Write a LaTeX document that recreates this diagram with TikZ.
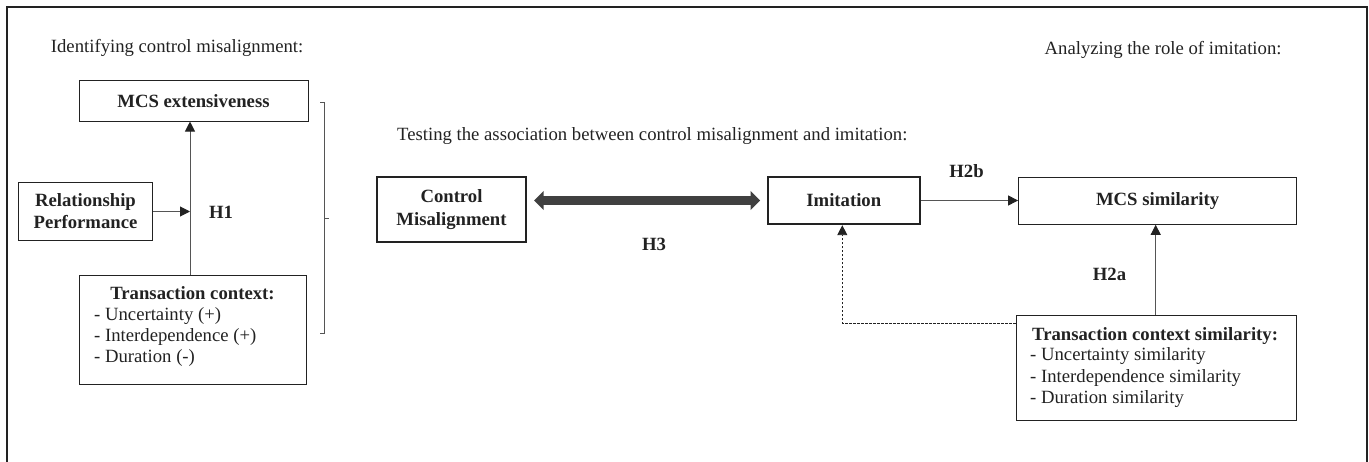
\documentclass[tikz,border=0pt]{standalone}
\usepackage{fontspec}
\setmainfont{Liberation Serif}
\usetikzlibrary{arrows.meta}
\definecolor{ink}{HTML}{222222}
\definecolor{linec}{HTML}{555555}
\definecolor{fatc}{HTML}{404040}
\tikzset{
  every node/.style={text=ink, font=\fontsize{18.7}{21}\selectfont},
  boxthin/.style={draw=ink, line width=1pt, inner sep=0pt, align=center,
     font=\fontsize{18.7}{22.4}\selectfont\bfseries},
  boxthick/.style={boxthin, line width=1.8pt},
  plain/.style={inner sep=0pt, anchor=base west},
  hlabel/.style={inner sep=0pt, font=\fontsize{18.7}{21}\selectfont\bfseries},
  conn/.style={draw=linec, line width=1pt, -{Triangle[length=10pt,width=10pt,color=ink]}},
  fat/.style={draw=fatc, line width=8.3pt,
     {Triangle[length=9.5pt,width=18.5pt,color=fatc]}-{Triangle[length=9.5pt,width=18.5pt,color=fatc]}},
  dotconn/.style={draw=ink, line width=0.9pt, dash pattern=on 2.5pt off 1.5pt,
     -{Triangle[length=10pt,width=10pt,color=ink]}},
  bracket/.style={draw=linec, line width=1pt},
  frame/.style={draw=ink, line width=2pt}
}
\begin{document}
\begin{tikzpicture}[x=1pt,y=-1pt]
\useasboundingbox (0,0) rectangle (1369,462);
\draw[frame] (7,463) -- (7,7) -- (1367,7) -- (1367,463);

% headings
\node[plain] (t1) at (50.7,52.7) {Identifying control misalignment:};
\node[plain] (t2) at (397,141) {Testing the association between control misalignment and imitation:};
\node[plain] (t3) at (1044.5,55) {Analyzing the role of imitation:};

% left part
\node[boxthin, minimum width=229pt, minimum height=40.7pt] (mcsx) at (193.5,100.7) {MCS extensiveness};
\node[boxthin, minimum width=134.4pt, minimum height=57.3pt] (rp) at (85.5,211.4) {Relationship\\Performance};
\node[draw=ink, line width=1pt, inner sep=0pt, minimum width=227pt, minimum height=108.6pt] (tc) at (192.5,330) {};
\node[hlabel, anchor=base] (tct) at (192.5,300) {Transaction context:};
\node[plain] (tc1) at (94,321) {- Uncertainty (+)};
\node[plain] (tc2) at (94,342) {- Interdependence (+)};
\node[plain] (tc3) at (94,363) {- Duration (-)};
\node[hlabel] (h1) at (221,212.5) {H1};
\coordinate (h1j) at (190,211.5);
\draw[conn] (rp.east |- h1j) -- (h1j);
\draw[conn] (tc.north -| h1j) -- (mcsx.south -| h1j);

% bracket
\coordinate (bt) at (324,103);
\coordinate (bb) at (324,334);
\coordinate (bm) at (324,218.5);
\draw[bracket] ([xshift=-4pt]bt) -- (bt) -- (bb) -- ([xshift=-4pt]bb);
\draw[bracket] (bm) -- ([xshift=4.5pt]bm);

% middle part
\node[boxthick, minimum width=149pt, minimum height=65pt] (cm) at (451.5,209.5) {Control\\Misalignment};
\node[boxthick, minimum width=151.6pt, minimum height=47.6pt] (imit) at (843.8,200.5) {Imitation};
\draw[fat, shorten <=7.3pt, shorten >=7pt] (cm.east |- imit.west) -- (imit.west);
\node[hlabel] (h3) at (654,244.5) {H3};

% right part
\node[boxthin, minimum width=278pt, minimum height=47pt] (mcss) at (1157.6,200.8) {MCS similarity};
\node[draw=ink, line width=1pt, inner sep=0pt, minimum width=280pt, minimum height=104.3pt] (tcs) at (1156,367.9) {};
\node[hlabel, anchor=base west] (tcst) at (1032,340.7) {Transaction context similarity:};
\node[plain] (tcs1) at (1030,361) {- Uncertainty similarity};
\node[plain] (tcs2) at (1030,382.4) {- Interdependence similarity};
\node[plain] (tcs3) at (1030,404) {- Duration similarity};
\draw[conn] (imit.east) -- (mcss.west |- imit.east);
\node[hlabel] (h2b) at (966.5,171.5) {H2b};
\coordinate (h2ax) at (1155.7,300);
\draw[conn] (tcs.north -| h2ax) -- (mcss.south -| h2ax);
\node[hlabel] (h2a) at (1109.5,274) {H2a};
\coordinate (dj) at (842.3,323.3);
\draw[dotconn] (dj -| tcs.west) -- (dj) -- (dj |- imit.south);
\end{tikzpicture}
\end{document}
